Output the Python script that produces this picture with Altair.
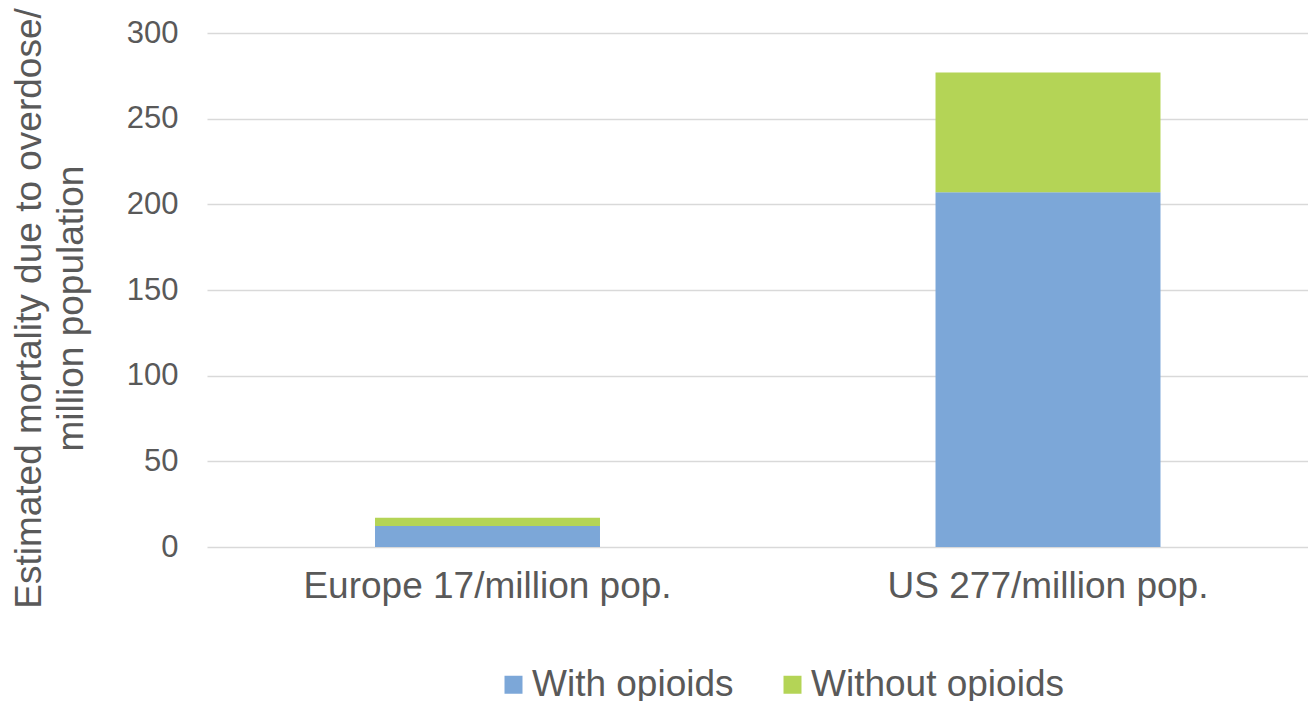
import altair as alt
import pandas as pd

regions = ["Europe 17/million pop.", "US 277/million pop."]
with_opioids = [12.3, 207.0]
without_opioids = [4.7, 70.0]
series = ["With opioids", "Without opioids"]
colors = ["#7CA7D8", "#B4D456"]
y_ticks = [0, 50, 100, 150, 200, 250, 300]

rows = []
for i, r in enumerate(regions):
    rows.append({"region": r, "series": series[0], "value": with_opioids[i], "ord": 0})
    rows.append({"region": r, "series": series[1], "value": without_opioids[i], "ord": 1})
df = pd.DataFrame(rows)

FONT = "Liberation Sans, Arial, sans-serif"
GREY = "#595959"

chart = alt.Chart(df).mark_bar().encode(
    x=alt.X("region:N", sort=regions,
            scale=alt.Scale(paddingInner=0.5986, paddingOuter=0.28145, align=0.5325),
            axis=alt.Axis(title=None, labelAngle=0, labelFontSize=37, labelColor=GREY,
                          labelFont=FONT, ticks=False, tickSize=0, domain=False,
                          labelBaseline="alphabetic", labelPadding=50, labelLimit=600)),
    y=alt.Y("value:Q", stack="zero",
            scale=alt.Scale(domain=[0, 300], nice=False),
            axis=alt.Axis(values=y_ticks, title=["Estimated mortality due to overdose/", "million population"],
                          titleFont=FONT, titleFontSize=37, titleFontWeight="normal", titleColor=GREY,
                          titleAngle=270, titleBaseline="alphabetic", titleAlign="center",
                          titleX=-167, titleY=275, titleLineHeight=42, titleLimit=1000,
                          labelFontSize=31, labelColor=GREY, labelFont=FONT,
                          ticks=False, tickSize=0, domain=False, labelPadding=29,
                          gridColor="#D9D9D9", gridWidth=1.5)),
    color=alt.Color("series:N", sort=series,
                    scale=alt.Scale(domain=series, range=colors),
                    legend=alt.Legend(title=None, orient="none", legendX=288, legendY=633,
                                      direction="horizontal", labelFontSize=37, labelColor=GREY,
                                      labelFont=FONT, symbolType="square", symbolSize=324,
                                      symbolStrokeWidth=0, columnPadding=40, labelOffset=0,
                                      labelLimit=600, padding=0, rowPadding=0)),
    order=alt.Order("ord:Q"),
).properties(
    width=1101, height=514,
    autosize=alt.AutoSizeParams(type="none"),
    padding={"left": 199, "top": 25, "right": 0, "bottom": 154},
).configure_view(stroke=None)

chart.save("out.html", embed_options={"renderer": "svg", "actions": False})
